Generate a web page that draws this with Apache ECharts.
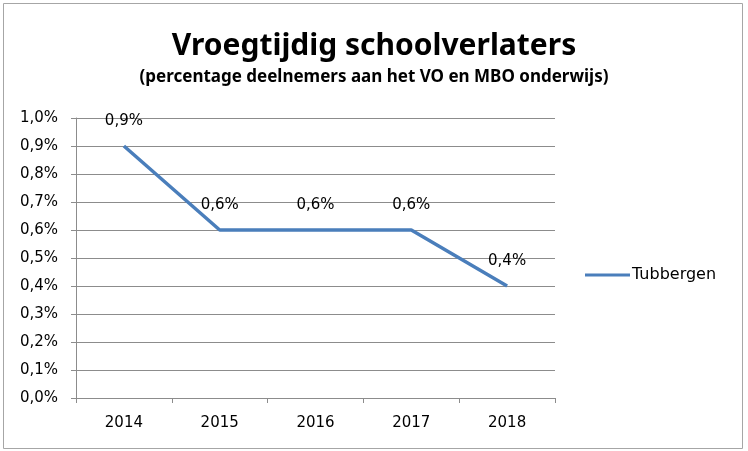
<!DOCTYPE html>
<html lang="nl">
<head>
  <meta charset="UTF-8">
  <title>Vroegtijdig schoolverlaters</title>
  <style>
    html, body { margin: 0; padding: 0; background: #fff; }
    #echart { width: 748px; height: 451px; }
  </style>
</head>
<body>
  <div id="echart"></div>
  <script src="https://cdn.jsdelivr.net/npm/echarts@6/dist/echarts.min.js"></script>
  <script>
    // jaren op de x-as
    var jaren = ['2014', '2015', '2016', '2017', '2018'];
    // percentage vroegtijdig schoolverlaters
    var tubbergen = [0.9, 0.6, 0.6, 0.6, 0.4];
    var reeksNaam = 'Tubbergen';
    var titel = 'Vroegtijdig schoolverlaters';
    var subtitel = '(percentage deelnemers aan het VO en MBO onderwijs)';

    function pct(v) {
      return v.toFixed(1).replace('.', ',') + '%';
    }

    var font = 'DejaVu Sans';

    var option = {
      animation: false,
      backgroundColor: '#fff',
      title: [
        {
          text: titel,
          left: 'center',
          top: 26,
          textStyle: { fontFamily: 'Noto Sans', fontWeight: 'bold', fontSize: 30, color: '#000' }
        },
        {
          text: subtitel,
          left: 'center',
          top: 64,
          textStyle: { fontFamily: 'Noto Sans', fontWeight: 'bold', fontSize: 17, color: '#000' }
        }
      ],
      graphic: [{
        type: 'rect',
        shape: { x: 3.5, y: 3.5, width: 739, height: 445 },
        style: { fill: 'none', stroke: '#a6a6a6', lineWidth: 1 }
      }],
      legend: {
        data: [{ name: reeksNaam, icon: 'rect' }],
        orient: 'vertical',
        left: 580,
        top: 262,
        itemWidth: 45,
        itemHeight: 3,
        textStyle: { fontFamily: font, fontSize: 16, color: '#000', padding: [0, 0, 0, -3] }
      },
      grid: { left: 76, right: 193, top: 118, bottom: 53 },
      xAxis: {
        type: 'category',
        data: jaren,
        boundaryGap: true,
        axisLine: { lineStyle: { color: '#8c8c8c' } },
        axisTick: { show: true, length: 5, lineStyle: { color: '#8c8c8c' } },
        axisLabel: { fontFamily: font, fontSize: 15, color: '#000', margin: 18 }
      },
      yAxis: {
        type: 'value',
        min: 0,
        max: 1,
        interval: 0.1,
        axisLine: { show: true, lineStyle: { color: '#8c8c8c' } },
        axisTick: { show: true, length: 5, lineStyle: { color: '#8c8c8c' } },
        splitLine: { lineStyle: { color: '#8c8c8c' } },
        axisLabel: {
          fontFamily: font, fontSize: 15, color: '#000', margin: 18,
          formatter: function (v) { return pct(v); }
        }
      },
      series: [{
        name: reeksNaam,
        type: 'line',
        data: tubbergen,
        symbol: 'circle',
        symbolSize: 0,
        showSymbol: true,
        color: '#4a7ebb',
        lineStyle: { width: 3.5, color: '#4a7ebb' },
        label: {
          show: true,
          position: 'top',
          distance: 17,
          fontFamily: font,
          fontSize: 15,
          color: '#000',
          formatter: function (p) { return pct(p.value); }
        }
      }]
    };

    var myChart = echarts.init(document.getElementById('echart'));
    myChart.setOption(option);
  </script>
</body>
</html>
